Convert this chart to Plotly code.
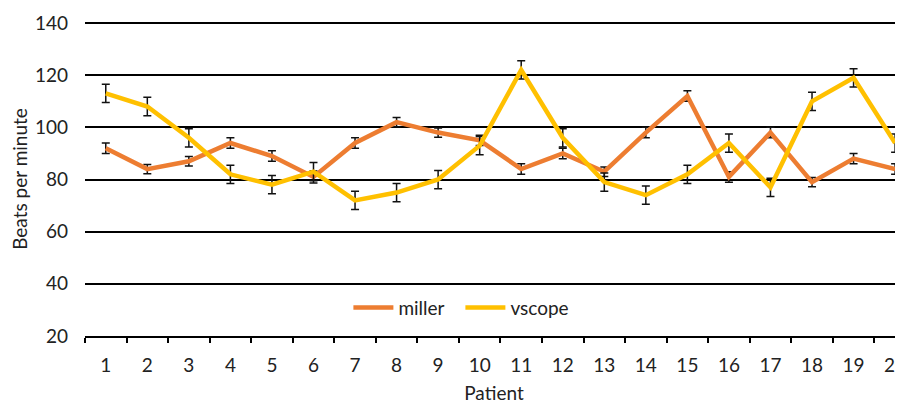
import plotly.graph_objects as go

patients = [str(i) for i in range(1, 21)]
miller = [92, 84, 87, 94, 89, 81, 94, 102, 98, 95, 84, 90, 83, 98, 112, 81, 98, 79, 88, 84]
miller_err = [2, 1.8, 1.8, 2, 2, 2.3, 2, 1.8, 1.8, 2, 2, 2, 1.8, 2, 2, 2, 2, 1.8, 2, 2]
vscope = [113, 108, 96, 82, 78, 83, 72, 75, 80, 93, 122, 96, 79, 74, 82, 94, 77, 110, 119, 94]
vscope_err = [3.5, 3.5, 3.5, 3.5, 3.5, 3.5, 3.5, 3.5, 3.5, 3.5, 3.5, 3.5, 3.5, 3.5, 3.5, 3.5, 3.5, 3.5, 3.5, 3.5]
y_ticks = [20, 40, 60, 80, 100, 120, 140]

FONT = "Lato"
fig = go.Figure()
fig.add_trace(go.Scatter(
    x=patients, y=miller, name="miller", mode="lines",
    line=dict(color="#ED7D31", width=4.5),
    error_y=dict(type="data", array=miller_err, color="#111", thickness=1.5, width=4),
))
fig.add_trace(go.Scatter(
    x=patients, y=vscope, name="vscope", mode="lines",
    line=dict(color="#FFC000", width=4.5),
    error_y=dict(type="data", array=vscope_err, color="#111", thickness=1.5, width=4),
))

# page body has an 8px default margin, so the figure is drawn at (8, 8)
fig.update_layout(
    width=895, height=396,
    margin=dict(l=77, r=0, t=14, b=68),
    paper_bgcolor="white", plot_bgcolor="white",
    font=dict(family=FONT, size=19, color="#222"),
    legend=dict(orientation="h", x=0.322, y=0.09, xanchor="left", yanchor="middle",
                bgcolor="rgba(0,0,0,0)", font=dict(size=19), itemwidth=40,
                entrywidth=57, entrywidthmode="pixels"),
    xaxis=dict(
        type="category", range=[-0.5, 19.19], automargin=False,
        showline=True, linecolor="black", linewidth=2,
        ticks="outside", tickson="boundaries", ticklen=5, tickcolor="black", tickwidth=1.5,
        showgrid=False, ticklabelstandoff=11,
        title=dict(text="Patient", standoff=19, font=dict(size=19)),
    ),
    yaxis=dict(
        range=[20, 140.4], tickvals=y_ticks, automargin=False,
        showgrid=True, gridcolor="black", gridwidth=2,
        zeroline=False, showline=False, ticks="", ticklabelstandoff=16,
        title=dict(text="Beats per minute", standoff=2, font=dict(size=19)),
    ),
)

fig.write_html("out.html")
